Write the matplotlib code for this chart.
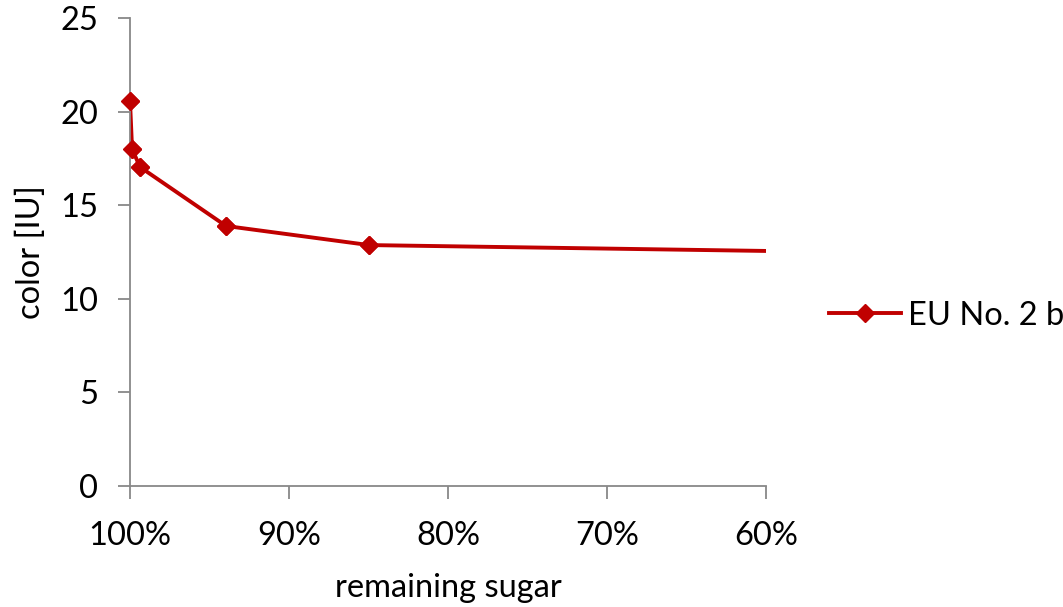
import matplotlib
matplotlib.use("Agg")
import matplotlib.pyplot as plt
from matplotlib.ticker import PercentFormatter, MultipleLocator

# remaining sugar fraction and colour in ICUMSA units
remaining_sugar = [1.000, 0.9987, 0.9937, 0.9396, 0.8497, 0.50]
color_iu = [20.57, 18.00, 17.04, 13.89, 12.87, 12.43]
series_name = "EU No. 2 b"

plt.rcParams["font.family"] = ["Lato", "DejaVu Sans"]

fig = plt.figure(figsize=(10.63, 6.07), dpi=100)
ax = fig.add_axes([0.1223, 0.1994, 0.5983, 0.7709])

x_min, x_max = 0.6, 1.0
line_color = "#C00000"
ax.plot(remaining_sugar, color_iu, color=line_color, lw=2.8,
        marker="D", markersize=9, label=series_name, clip_on=True)
# markers inside the x range drawn unclipped so the edge point shows whole
shown = [(x, y) for x, y in zip(remaining_sugar, color_iu) if x_min <= x <= x_max]
ax.plot([p[0] for p in shown], [p[1] for p in shown], ls="none",
        marker="D", markersize=9, color=line_color, clip_on=False, zorder=3)

ax.set_xlim(x_max, x_min)
ax.set_ylim(0, 25)
ax.xaxis.set_major_locator(MultipleLocator(0.1))
ax.xaxis.set_major_formatter(PercentFormatter(1.0, decimals=0))
ax.yaxis.set_major_locator(MultipleLocator(5))

gray = "#888888"
for side in ("top", "right"):
    ax.spines[side].set_visible(False)
for side in ("left", "bottom"):
    ax.spines[side].set_color(gray)
    ax.spines[side].set_linewidth(1.3)

fs = 23.5
ax.tick_params(axis="both", colors=gray, labelcolor="black", labelsize=fs,
               length=9, width=1.3, direction="out")
ax.tick_params(axis="x", pad=16)
ax.tick_params(axis="y", pad=14)

ax.set_xlabel("remaining sugar", fontsize=fs, labelpad=16)
ax.set_ylabel("color [IU]", fontsize=fs, labelpad=10)

fig.legend(loc="center left", bbox_to_anchor=(0.768, 0.48), frameon=False,
           fontsize=fs, handlelength=2.2, handletextpad=0.2,
           borderaxespad=0)

fig.savefig("out.png", dpi=100)
